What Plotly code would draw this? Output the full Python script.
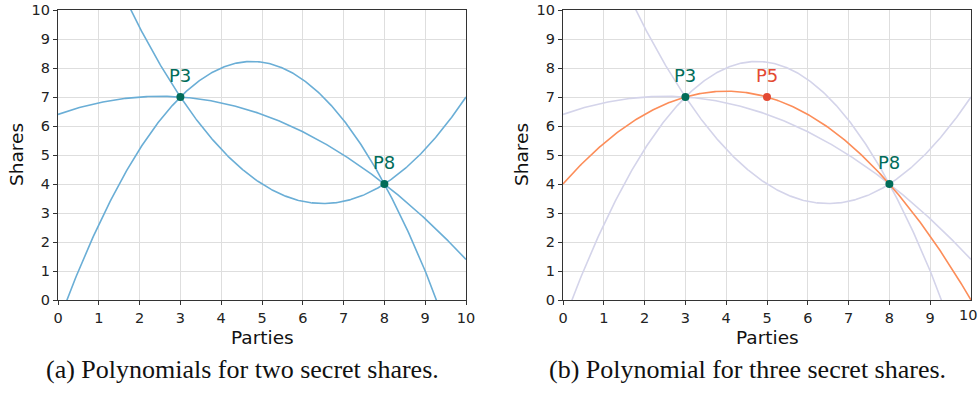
import numpy as np
import plotly.graph_objects as go

# Secret share points
share_x = [3, 8]
share_y = [7, 4]
share_labels = ["P3", "P8"]
extra_x = [5]
extra_y = [7]
extra_labels = ["P5"]

# Polynomial coefficients (highest power first) for the candidate curves
poly_two = [
    [-0.1, 0.5, 6.4],
    [-0.4, 3.8, -0.8],
    [0.3, -3.9, 16.0],
]
poly_three = [-0.2, 1.6, 4.0]

x_ticks = list(range(0, 11))
y_ticks = list(range(0, 11))

captions = ["(a) Polynomials for two secret shares.",
            "(b) Polynomial for three secret shares."]
x_title = "Parties"
y_title = "Shares"

W, H = 979, 413
BLUE = "#6aaed6"
LAV = "#d4d4ea"
ORANGE = "#fc8d59"
RED = "#e34a33"
GREEN = "#016c59"

xs = np.linspace(0, 10, 401)
fig = go.Figure()

def curve(coefs, color, xa, ya, width=1.6):
    y = np.polyval(coefs, xs)
    fig.add_trace(go.Scatter(x=xs, y=y, mode="lines", line=dict(color=color, width=width),
                             xaxis=xa, yaxis=ya, showlegend=False, hoverinfo="skip"))

for c in poly_two:
    curve(c, BLUE, "x", "y")
for c in poly_two:
    curve(c, LAV, "x2", "y2")
curve(poly_three, ORANGE, "x2", "y2")

for xa, ya in [("x", "y"), ("x2", "y2")]:
    fig.add_trace(go.Scatter(x=share_x, y=share_y, mode="markers",
                             marker=dict(color=GREEN, size=8), xaxis=xa, yaxis=ya,
                             showlegend=False, cliponaxis=False))
    for px, py, lab in zip(share_x, share_y, share_labels):
        fig.add_annotation(x=px, y=py, text=lab, xref=xa, yref=ya, showarrow=False,
                           yshift=22, font=dict(family="DejaVu Sans", size=18, color=GREEN))
fig.add_trace(go.Scatter(x=extra_x, y=extra_y, mode="markers",
                         marker=dict(color=RED, size=8), xaxis="x2", yaxis="y2",
                         showlegend=False))
for px, py, lab in zip(extra_x, extra_y, extra_labels):
    fig.add_annotation(x=px, y=py, text=lab, xref="x2", yref="y2", showarrow=False,
                       yshift=22, font=dict(family="DejaVu Sans", size=18, color=RED))

ytop, ybot = 10, 300
ydom = [1 - ybot / H, 1 - ytop / H]
tickfont = dict(family="DejaVu Sans", size=14.5, color="#222222")
axis_common = dict(range=[0, 10], showline=True, mirror=True, linecolor="#333333", linewidth=1.2,
                   ticks="outside", ticklen=4, tickcolor="#333333", showgrid=True,
                   gridcolor="#dedede", gridwidth=1, zeroline=False, automargin=False,
                   tickfont=tickfont, tickmode="array")

panels = [(58, 466), (563, 971)]

fig.update_layout(
    width=W, height=H, margin=dict(l=0, r=0, t=0, b=0, autoexpand=False),
    plot_bgcolor="white", paper_bgcolor="white",
    xaxis=dict(domain=[panels[0][0] / W, panels[0][1] / W], anchor="y", tickvals=x_ticks, **axis_common),
    yaxis=dict(domain=ydom, anchor="x", tickvals=y_ticks, **axis_common),
    xaxis2=dict(domain=[panels[1][0] / W, panels[1][1] / W], anchor="y2", tickvals=x_ticks[:-1], **axis_common),
    yaxis2=dict(domain=ydom, anchor="x2", tickvals=y_ticks, **axis_common),
)

# last tick label of the right panel sits on the page edge; draw it as text kept inside the page
fig.add_annotation(x=x_ticks[-1], y=0, xref="x2", yref="y2", text=str(x_ticks[-1]),
                   showarrow=False, xanchor="right", xshift=8, yanchor="top", yshift=-5, font=tickfont)

tfont = dict(family="DejaVu Sans", size=18.5, color="#111111")
for (l, r), cap in zip(panels, captions):
    cx = (l + r) / 2
    fig.add_annotation(x=cx / W, y=1 - 337 / H, xref="paper", yref="paper", text=x_title,
                       showarrow=False, xanchor="center", yanchor="middle", font=tfont)
    fig.add_annotation(x=(l - 41) / W, y=1 - 155 / H, xref="paper", yref="paper", text=y_title,
                       showarrow=False, xanchor="center", yanchor="middle", textangle=-90, font=tfont)
    fig.add_annotation(x=(cx - 20) / W, y=1 - 369 / H, xref="paper", yref="paper", text=cap,
                       showarrow=False, xanchor="center", yanchor="middle",
                       font=dict(family="Liberation Serif", size=26, color="#111111"))

fig.write_html("out.html")
